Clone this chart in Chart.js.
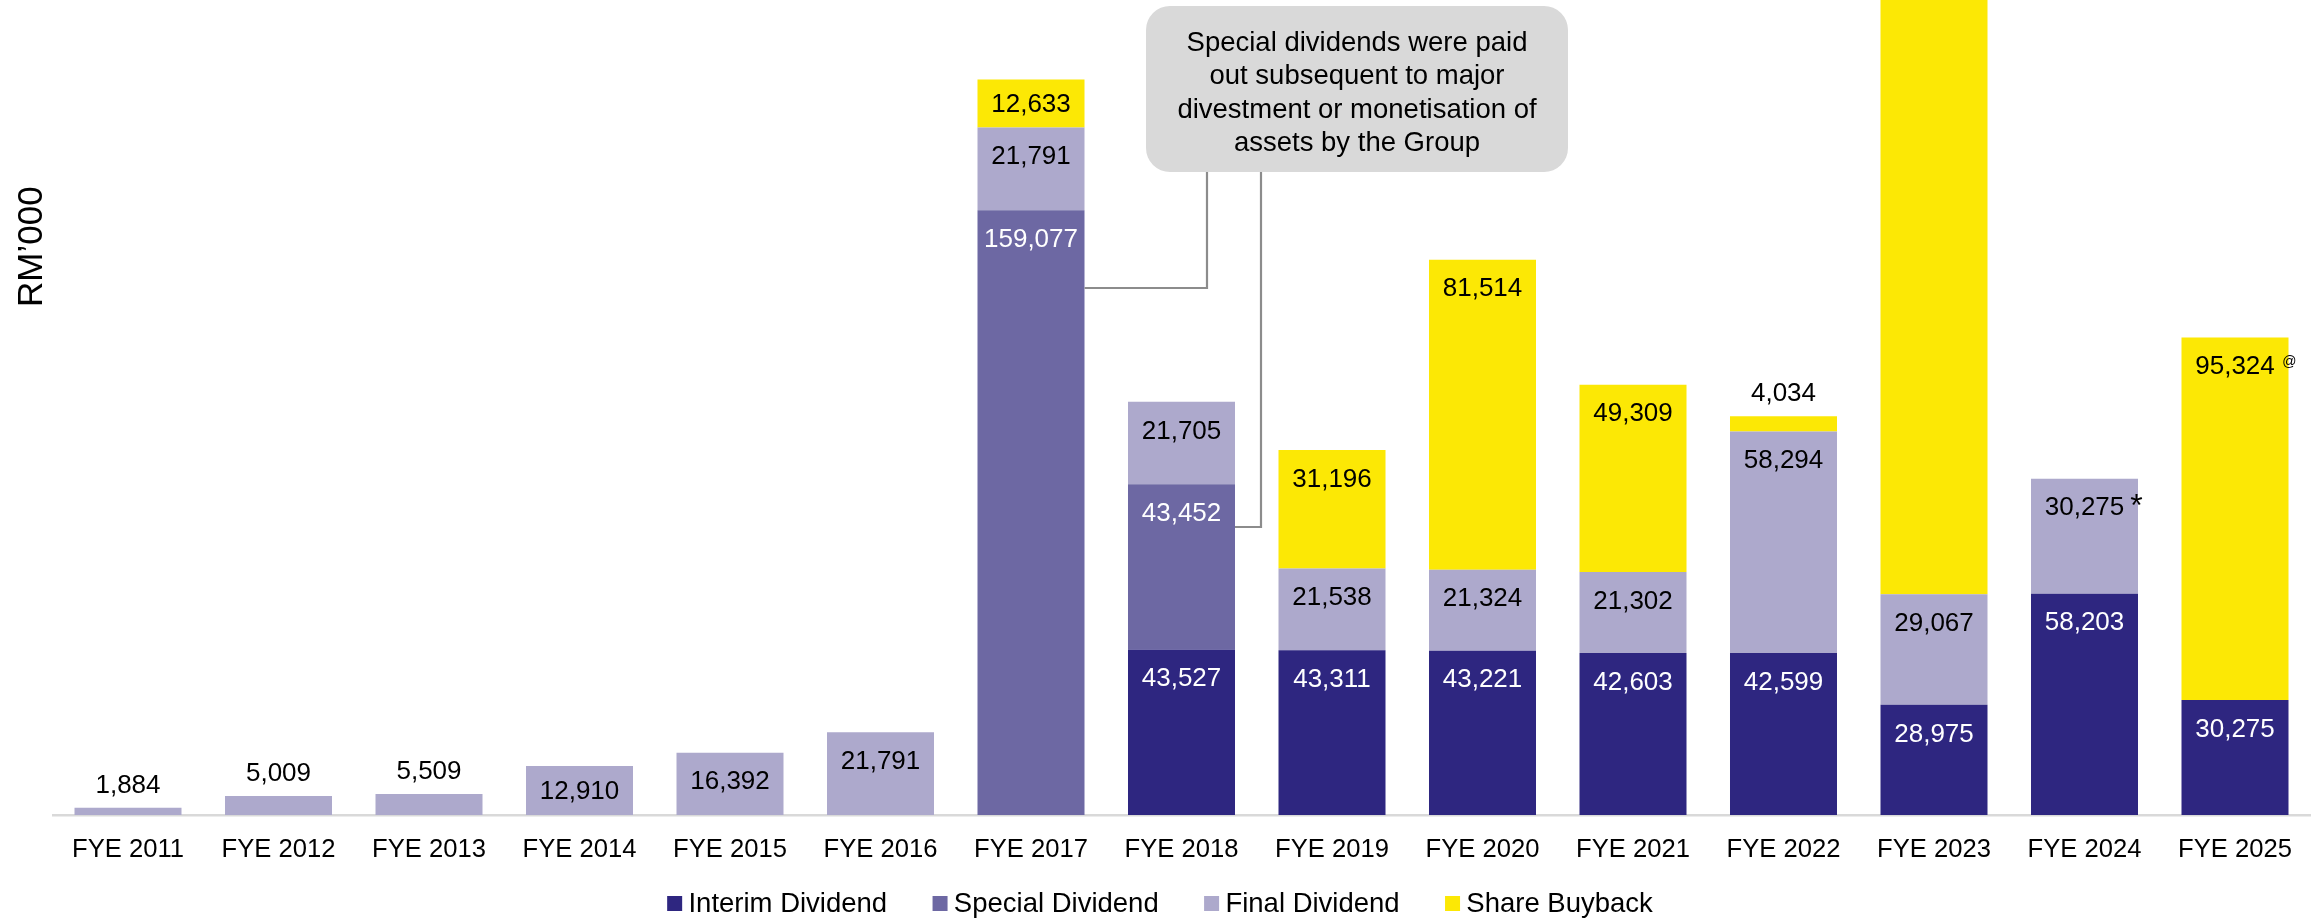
<!DOCTYPE html>
<html>
<head>
<meta charset="utf-8">
<title>Dividends and Share Buyback</title>
<script src="https://cdn.jsdelivr.net/npm/chart.js@4.4.1/dist/chart.umd.min.js"></script>
<style>
  html, body { margin: 0; padding: 0; background: #ffffff; }
  #wrap { width: 2317px; height: 919px; position: relative; }
</style>
</head>
<body>
<div id="wrap"><canvas id="chart" width="2317" height="919"></canvas></div>
<script>
// ---- data (RM'000) ----
const categories = ['FYE 2011', 'FYE 2012', 'FYE 2013', 'FYE 2014', 'FYE 2015', 'FYE 2016', 'FYE 2017',
  'FYE 2018', 'FYE 2019', 'FYE 2020', 'FYE 2021', 'FYE 2022', 'FYE 2023', 'FYE 2024', 'FYE 2025'];

const interimDividend = [null, null, null, null, null, null, null,
  43527, 43311, 43221, 42603, 42599, 28975, 58203, 30275];

const specialDividend = [null, null, null, null, null, null, 159077,
  43452, null, null, null, null, null, null, null];

const finalDividend = [1884, 5009, 5509, 12910, 16392, 21791, 21791,
  21705, 21538, 21324, 21302, 58294, 29067, 30275, null];

// FYE 2023 buyback runs past the top of the plot; its value is an estimate
const shareBuyback = [null, null, null, null, null, null, 12633,
  null, 31196, 81514, 49309, 4034, 180000, null, 95324];

// footnote marks printed beside some value labels
const finalNotes = ['', '', '', '', '', '', '', '', '', '', '', '', '', '*', ''];
const buybackNotes = ['', '', '', '', '', '', '', '', '', '', '', '', '', '', '@'];

const yMax = 214400;

const FONT = '"Liberation Sans", Arial, Helvetica, sans-serif';

const calloutLines = [
  'Special dividends were paid',
  'out subsequent to major',
  'divestment or monetisation of',
  'assets by the Group'
];

const fmt = v => v.toLocaleString('en-US');

// value labels on each stacked segment
const valueLabels = {
  id: 'valueLabels',
  afterDatasetsDraw(chart) {
    const ctx = chart.ctx;
    ctx.save();
    chart.data.datasets.forEach((ds, di) => {
      const meta = chart.getDatasetMeta(di);
      if (meta.hidden) return;
      meta.data.forEach((bar, i) => {
        const v = ds.data[i];
        if (v == null) return;
        const p = bar.getProps(['x', 'y', 'base'], true);
        const h = p.base - p.y;
        let ly, color;
        if (h < 40) {
          ly = p.y - 22.5;
          color = '#000000';
        } else {
          ly = p.y + Math.min(29.5, h / 2 + 1);
          color = ds.labelColor;
        }
        const text = fmt(v);
        ctx.fillStyle = color;
        ctx.font = '26px ' + FONT;
        ctx.textAlign = 'center';
        ctx.textBaseline = 'middle';
        ctx.fillText(text, p.x, ly);
        const note = ds.notes ? ds.notes[i] : '';
        if (note) {
          const w = ctx.measureText(text).width;
          ctx.textAlign = 'left';
          ctx.textBaseline = 'alphabetic';
          ctx.fillStyle = '#000000';
          if (note === '*') {
            ctx.font = '32px ' + FONT;
            ctx.fillText(note, p.x + w / 2 + 6, ly + 8);
          } else {
            ctx.font = '14px ' + FONT;
            ctx.fillText(note, p.x + w / 2 + 7.5, ly - 1);
          }
        }
      });
    });
    ctx.restore();
  }
};

// callout box, connector lines, axis title and legend
const decorations = {
  id: 'decorations',
  afterDraw(chart) {
    const ctx = chart.ctx;
    ctx.save();

    // connectors from the callout to the special dividend bars
    const sMeta = chart.getDatasetMeta(1);
    const bar17 = sMeta.data[6].getProps(['x', 'width'], true);
    const bar18 = sMeta.data[7].getProps(['x', 'width'], true);
    ctx.strokeStyle = '#8c8c8c';
    ctx.lineWidth = 2.2;
    ctx.beginPath();
    ctx.moveTo(1207, 171);
    ctx.lineTo(1207, 288);
    ctx.lineTo(bar17.x + bar17.width / 2, 288);
    ctx.stroke();
    ctx.beginPath();
    ctx.moveTo(1261, 171);
    ctx.lineTo(1261, 527);
    ctx.lineTo(bar18.x + bar18.width / 2, 527);
    ctx.stroke();

    // callout box
    ctx.fillStyle = '#d9d9d9';
    ctx.beginPath();
    ctx.roundRect(1146, 6, 422, 166, 24);
    ctx.fill();
    ctx.fillStyle = '#000000';
    ctx.font = '27.5px ' + FONT;
    ctx.textAlign = 'center';
    ctx.textBaseline = 'middle';
    calloutLines.forEach((line, k) => ctx.fillText(line, 1357, 43.5 + k * 33.3));

    // y axis title
    ctx.save();
    ctx.translate(41.5, 246.7);
    ctx.rotate(-Math.PI / 2);
    ctx.font = '35px ' + FONT;
    ctx.textAlign = 'center';
    ctx.textBaseline = 'alphabetic';
    ctx.fillStyle = '#000000';
    ctx.fillText('RM\u2019000', 0, 0);
    ctx.restore();

    // legend
    ctx.font = '27.5px ' + FONT;
    ctx.textBaseline = 'middle';
    ctx.textAlign = 'left';
    const box = 15, gapText = 6.3, gapItem = 45.4;
    const items = chart.data.datasets.map(ds => ({ label: ds.label, color: ds.backgroundColor, w: ctx.measureText(ds.label).width }));
    const total = items.reduce((s, it) => s + box + gapText + it.w, 0) + gapItem * (items.length - 1);
    let lx = 1160 - total / 2;
    const ly = 903.5;
    items.forEach(it => {
      ctx.fillStyle = it.color;
      ctx.fillRect(lx, ly - box / 2, box, box);
      ctx.fillStyle = '#000000';
      ctx.fillText(it.label, lx + box + gapText, ly + 1);
      lx += box + gapText + it.w + gapItem;
    });
    ctx.restore();
  }
};

new Chart(document.getElementById('chart'), {
  type: 'bar',
  data: {
    labels: categories,
    datasets: [
      { label: 'Interim Dividend', data: interimDividend, backgroundColor: '#2e2680', labelColor: '#ffffff' },
      { label: 'Special Dividend', data: specialDividend, backgroundColor: '#6d68a3', labelColor: '#ffffff' },
      { label: 'Final Dividend', data: finalDividend, backgroundColor: '#ada9cc', labelColor: '#000000', notes: finalNotes },
      { label: 'Share Buyback', data: shareBuyback, backgroundColor: '#fce805', labelColor: '#000000', notes: buybackNotes }
    ]
  },
  options: {
    responsive: false,
    animation: false,
    devicePixelRatio: 1,
    categoryPercentage: 1,
    barPercentage: 0.711,
    layout: { padding: { left: 52.75, right: 6.75, top: 0, bottom: 0 } },
    plugins: {
      legend: { display: false },
      tooltip: { enabled: false }
    },
    scales: {
      x: {
        stacked: true,
        grid: { display: false, drawTicks: false },
        border: { display: true, color: '#d9d9d9', width: 2.5 },
        ticks: { color: '#000000', font: { family: FONT, size: 25.6 }, padding: 20, maxRotation: 0, autoSkip: false },
        // reserve a fixed band under the plot for tick labels and the legend
        afterFit(scale) { scale.height = 104; }
      },
      y: {
        stacked: true,
        display: false,
        min: 0,
        max: yMax
      }
    }
  },
  plugins: [valueLabels, decorations]
});
</script>
</body>
</html>
